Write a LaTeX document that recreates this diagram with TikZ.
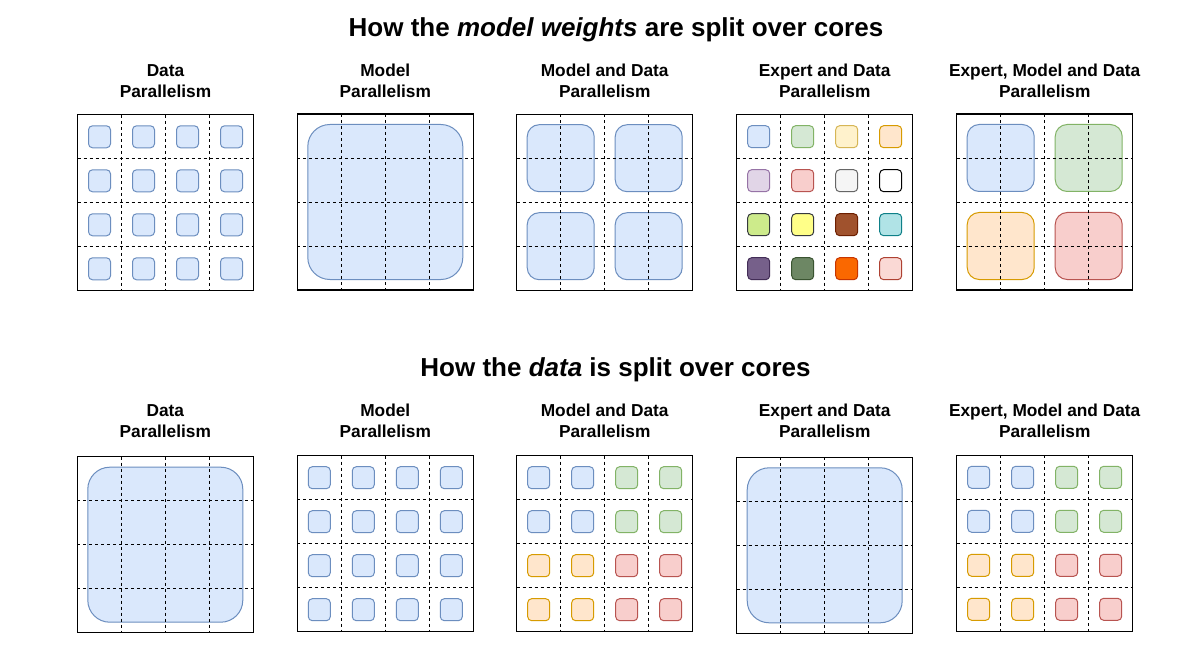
\documentclass[tikz,border=0pt]{standalone}
\usepackage{fontspec}
\setmainfont{Liberation Sans}
\definecolor{bF}{HTML}{DAE8FC}\definecolor{bS}{HTML}{6C8EBF}
\definecolor{gF}{HTML}{D5E8D4}\definecolor{gS}{HTML}{82B366}
\definecolor{yF}{HTML}{FFF2CC}\definecolor{yS}{HTML}{D6B656}
\definecolor{oF}{HTML}{FFE6CC}\definecolor{oS}{HTML}{D79B00}
\definecolor{pF}{HTML}{E1D5E7}\definecolor{pS}{HTML}{9673A6}
\definecolor{rF}{HTML}{F8CECC}\definecolor{rS}{HTML}{B85450}
\definecolor{grF}{HTML}{F5F5F5}\definecolor{grS}{HTML}{666666}
\definecolor{wF}{HTML}{FFFFFF}\definecolor{wS}{HTML}{000000}
\definecolor{lF}{HTML}{CDEB8B}\definecolor{lS}{HTML}{36393D}
\definecolor{lyF}{HTML}{FFFF88}\definecolor{lyS}{HTML}{36393D}
\definecolor{brF}{HTML}{A0522D}\definecolor{brS}{HTML}{6D1F00}
\definecolor{cF}{HTML}{B0E3E6}\definecolor{cS}{HTML}{0E8088}
\definecolor{vF}{HTML}{76608A}\definecolor{vS}{HTML}{432D57}
\definecolor{olF}{HTML}{6D8764}\definecolor{olS}{HTML}{3A5431}
\definecolor{orF}{HTML}{FA6800}\definecolor{orS}{HTML}{C73500}
\definecolor{pkF}{HTML}{FAD9D5}\definecolor{pkS}{HTML}{AE4132}
\tikzset{
  frame/.style={draw=black, line width=1.1pt},
  gridline/.style={draw=black, line width=0.9pt, dash pattern=on 3pt off 3pt},
  smallcore/.style={rounded corners=4pt, line width=1pt},
  midcore/.style={rounded corners=12pt, line width=1pt},
  bigcore/.style={rounded corners=22pt, line width=1pt, fill=bF, draw=bS},
  paneltext/.style={font=\fontsize{17.3}{20.6}\selectfont\bfseries, anchor=base, inner sep=0pt},
  titletext/.style={font=\fontsize{26}{31}\selectfont\bfseries, anchor=base, inner sep=0pt},
}
% grid and frame of a panel, top-left corner (#1,#2)
\newcommand\coregrid[2]{%
  \foreach \i in {1,2,3}{%
    \draw[gridline] ({#1+44*\i},#2) -- ({#1+44*\i},{#2+176});
    \draw[gridline] (#1,{#2+44*\i}) -- ({#1+176},{#2+44*\i});
  }%
  \draw[frame] (#1,#2) rectangle ({#1+176},{#2+176});
}
% small core in cell (col #3,row #4) of panel at (#1,#2), colours #5 fill #6 stroke
\newcommand\smallbox[6]{%
  \draw[smallcore, fill=#5, draw=#6] ({#1+44*#3+11},{#2+44*#4+11}) rectangle ({#1+44*#3+33},{#2+44*#4+33});
}
\newcommand\midbox[6]{%
  \draw[midcore, fill=#5, draw=#6] ({#1+88*#3+10.5},{#2+88*#4+10.5}) rectangle ({#1+88*#3+77.5},{#2+88*#4+77.5});
}
\newcommand\bigbox[2]{%
  \draw[bigcore] ({#1+10.5},{#2+10.5}) rectangle ({#1+165.5},{#2+165.5});
}
\begin{document}
\begin{tikzpicture}[x=1pt,y=-1pt]
\useasboundingbox[fill=white] (0,0) rectangle (1204,668);

% titles
\node[titletext] (t1) at (616,36.7) {How the \textit{model weights} are split over cores};
\node[titletext] (t2) at (615.5,376.7) {How the \textit{data} is split over cores};

% ---------------- top row ----------------
% panel 1: data parallelism
\foreach \c in {0,1,2,3}{\foreach \r in {0,1,2,3}{\smallbox{77.5}{114.8}{\c}{\r}{bF}{bS}}}
\coregrid{77.5}{114.8}
% panel 2: model parallelism
\bigbox{297.3}{114}
\coregrid{297.3}{114}
% panel 3: model and data
\foreach \c in {0,1}{\foreach \r in {0,1}{\midbox{516.7}{114.2}{\c}{\r}{bF}{bS}}}
\coregrid{516.7}{114.2}
% panel 4: expert and data
\smallbox{736.7}{114.7}{0}{0}{bF}{bS}
\smallbox{736.7}{114.7}{1}{0}{gF}{gS}
\smallbox{736.7}{114.7}{2}{0}{yF}{yS}
\smallbox{736.7}{114.7}{3}{0}{oF}{oS}
\smallbox{736.7}{114.7}{0}{1}{pF}{pS}
\smallbox{736.7}{114.7}{1}{1}{rF}{rS}
\smallbox{736.7}{114.7}{2}{1}{grF}{grS}
\smallbox{736.7}{114.7}{3}{1}{wF}{wS}
\smallbox{736.7}{114.7}{0}{2}{lF}{lS}
\smallbox{736.7}{114.7}{1}{2}{lyF}{lyS}
\smallbox{736.7}{114.7}{2}{2}{brF}{brS}
\smallbox{736.7}{114.7}{3}{2}{cF}{cS}
\smallbox{736.7}{114.7}{0}{3}{vF}{vS}
\smallbox{736.7}{114.7}{1}{3}{olF}{olS}
\smallbox{736.7}{114.7}{2}{3}{orF}{orS}
\smallbox{736.7}{114.7}{3}{3}{pkF}{pkS}
\coregrid{736.7}{114.7}
% panel 5: expert, model and data
\midbox{956.7}{114}{0}{0}{bF}{bS}
\midbox{956.7}{114}{1}{0}{gF}{gS}
\midbox{956.7}{114}{0}{1}{oF}{oS}
\midbox{956.7}{114}{1}{1}{rF}{rS}
\coregrid{956.7}{114}

% top labels
\node[paneltext] (a1) at (165.5,76.7) {Data};
\node[paneltext] (a1b) at (165.5,97.3) {Parallelism};
\node[paneltext] (a2) at (385.3,76.7) {Model};
\node[paneltext] (a2b) at (385.3,97.3) {Parallelism};
\node[paneltext] (a3) at (604.7,76.7) {Model and Data};
\node[paneltext] (a3b) at (604.7,97.3) {Parallelism};
\node[paneltext] (a4) at (824.7,76.7) {Expert and Data};
\node[paneltext] (a4b) at (824.7,97.3) {Parallelism};
\node[paneltext] (a5) at (1044.7,76.7) {Expert, Model and Data};
\node[paneltext] (a5b) at (1044.7,97.3) {Parallelism};

% ---------------- bottom row ----------------
% panel 1
\bigbox{77.3}{456.7}
\coregrid{77.3}{456.7}
% panel 2
\foreach \c in {0,1,2,3}{\foreach \r in {0,1,2,3}{\smallbox{297.3}{455.7}{\c}{\r}{bF}{bS}}}
\coregrid{297.3}{455.7}
% panel 3
\foreach \c in {0,1}{\foreach \r in {0,1}{\smallbox{516.7}{455.7}{\c}{\r}{bF}{bS}}}
\foreach \c in {2,3}{\foreach \r in {0,1}{\smallbox{516.7}{455.7}{\c}{\r}{gF}{gS}}}
\foreach \c in {0,1}{\foreach \r in {2,3}{\smallbox{516.7}{455.7}{\c}{\r}{oF}{oS}}}
\foreach \c in {2,3}{\foreach \r in {2,3}{\smallbox{516.7}{455.7}{\c}{\r}{rF}{rS}}}
\coregrid{516.7}{455.7}
% panel 4
\bigbox{736.7}{457.3}
\coregrid{736.7}{457.3}
% panel 5
\foreach \c in {0,1}{\foreach \r in {0,1}{\smallbox{956.7}{455.3}{\c}{\r}{bF}{bS}}}
\foreach \c in {2,3}{\foreach \r in {0,1}{\smallbox{956.7}{455.3}{\c}{\r}{gF}{gS}}}
\foreach \c in {0,1}{\foreach \r in {2,3}{\smallbox{956.7}{455.3}{\c}{\r}{oF}{oS}}}
\foreach \c in {2,3}{\foreach \r in {2,3}{\smallbox{956.7}{455.3}{\c}{\r}{rF}{rS}}}
\coregrid{956.7}{455.3}

% bottom labels
\node[paneltext] (b1) at (165.3,416.7) {Data};
\node[paneltext] (b1b) at (165.3,437.3) {Parallelism};
\node[paneltext] (b2) at (385.3,416.7) {Model};
\node[paneltext] (b2b) at (385.3,437.3) {Parallelism};
\node[paneltext] (b3) at (604.7,416.7) {Model and Data};
\node[paneltext] (b3b) at (604.7,437.3) {Parallelism};
\node[paneltext] (b4) at (824.7,416.7) {Expert and Data};
\node[paneltext] (b4b) at (824.7,437.3) {Parallelism};
\node[paneltext] (b5) at (1044.7,416.7) {Expert, Model and Data};
\node[paneltext] (b5b) at (1044.7,437.3) {Parallelism};
\end{tikzpicture}
\end{document}
